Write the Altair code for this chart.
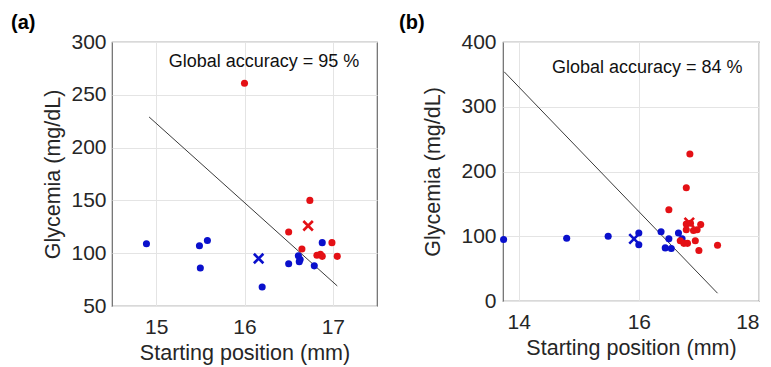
import altair as alt
import pandas as pd

# ---------------- Panel (a) ----------------
a_blue_x = [14.89, 15.49, 15.50, 15.58, 16.50, 16.20, 16.61, 16.63, 16.62, 16.79, 16.88]
a_blue_y = [109, 107, 86, 112, 90, 68, 97.5, 94, 92, 88, 110]
a_red_x = [16.00, 16.50, 16.74, 16.65, 16.82, 16.86, 16.88, 16.99, 17.05]
a_red_y = [261, 120, 150, 104, 98, 99, 97, 110, 97]
a_cross_x = [16.16, 16.72]
a_cross_y = [95, 126]
a_line_x = [14.92, 17.05]
a_line_y = [229, 69]
a_acc = "Global accuracy = 95 %"

# ---------------- Panel (b) ----------------
b_blue_x = [13.75, 14.80, 15.49, 16.00, 16.00, 16.37, 16.44, 16.50, 16.54, 16.66, 16.72]
b_blue_y = [95, 97, 100, 105, 87, 107, 82, 96, 81, 105, 96]
b_red_x = [16.85, 16.79, 16.50, 16.79, 16.86, 17.03, 16.97, 16.91, 16.79, 16.69, 16.75, 16.81, 16.94, 17.00, 17.31]
b_red_y = [227, 175, 141, 119, 120, 118, 110, 109, 110, 93, 89, 89, 93, 78, 86]
b_cross_x = [15.92, 16.84]
b_cross_y = [96, 121]
b_line_x = [13.76, 17.31]
b_line_y = [354, 12]
b_acc = "Global accuracy = 84 %"

BLUE = "#0a10cc"
RED = "#e41015"
FONT = "Liberation Sans"
TXT = "#262626"
XSHAPE = "M-1,-1L1,1M1,-1L-1,1"


def panel(bx, by, rx, ry, cx, cy, lx, ly, acc, acc_xy, xdom, ydom, xticks, yticks,
          label, label_xy, w, h, ypad, ytpad):
    pts = pd.DataFrame({"x": bx + rx, "y": by + ry,
                        "g": ["neg"] * len(bx) + ["pos"] * len(rx)})
    crs = pd.DataFrame({"x": cx, "y": cy, "g": ["neg", "pos"]})
    ln = pd.DataFrame({"x": lx, "y": ly})
    xs = alt.Scale(domain=xdom, nice=False, zero=False)
    ys = alt.Scale(domain=ydom, nice=False, zero=False)
    X = alt.X("x:Q", scale=xs, axis=alt.Axis(values=xticks, title="Starting position (mm)",
                                              labelPadding=10, titlePadding=5))
    Y = alt.Y("y:Q", scale=ys, axis=alt.Axis(values=yticks, title="Glycemia (mg/dL)",
                                              labelPadding=ypad, titlePadding=ytpad))
    col = alt.Color("g:N", scale=alt.Scale(domain=["neg", "pos"], range=[BLUE, RED]), legend=None)
    line = alt.Chart(ln).mark_line(color="#3a3a3a", strokeWidth=1).encode(x=X, y=Y)
    dots = alt.Chart(pts).mark_circle(size=50, opacity=1).encode(x=X, y=Y, color=col)
    crosses = alt.Chart(crs).mark_point(shape=XSHAPE, size=90, strokeWidth=2.6,
                                        filled=False, opacity=1).encode(x=X, y=Y, color=col)
    txt = alt.Chart(pd.DataFrame({"x": [acc_xy[0]], "y": [acc_xy[1]], "t": [acc]})).mark_text(
        font=FONT, fontSize=18, color="#111", align="center", baseline="middle"
    ).encode(x=X, y=Y, text="t:N")
    lab = alt.Chart(pd.DataFrame({"t": [label]})).mark_text(
        font=FONT, fontSize=20, fontWeight="bold", color="#000", align="left", baseline="middle"
    ).encode(x=alt.value(label_xy[0]), y=alt.value(label_xy[1]), text="t:N")
    return alt.layer(line, dots, crosses, txt, lab).properties(width=w, height=h)


pa = panel(a_blue_x, a_blue_y, a_red_x, a_red_y, a_cross_x, a_cross_y, a_line_x, a_line_y,
           a_acc, (16.22, 281), [14.5, 17.5], [50, 300], [15, 16, 17], [50, 100, 150, 200, 250, 300],
           "(a)", (-101, -19), 265, 264, 6, 6)
pb = panel(b_blue_x, b_blue_y, b_red_x, b_red_y, b_cross_x, b_cross_y, b_line_x, b_line_y,
           b_acc, (16.14, 360), [13.74, 18], [0, 400], [14, 16, 18], [0, 100, 200, 300, 400],
           "(b)", (-104, -19), 256, 259, 7, 16)

chart = alt.hconcat(pa, pb, spacing=20).properties(
    padding={"left": 2, "top": 4, "right": 0, "bottom": 0}
).configure_axis(
    grid=True, gridColor="#e4e4e4", gridWidth=1, domain=False, ticks=False,
    labelFont=FONT, labelFontSize=21, labelColor=TXT,
    titleFont=FONT, titleFontSize=21.5, titleFontWeight="normal", titleColor=TXT
).configure_view(stroke="#6a6a6a", strokeWidth=1.2)

chart.save("out.html", embed_options={"renderer": "svg", "actions": False})
